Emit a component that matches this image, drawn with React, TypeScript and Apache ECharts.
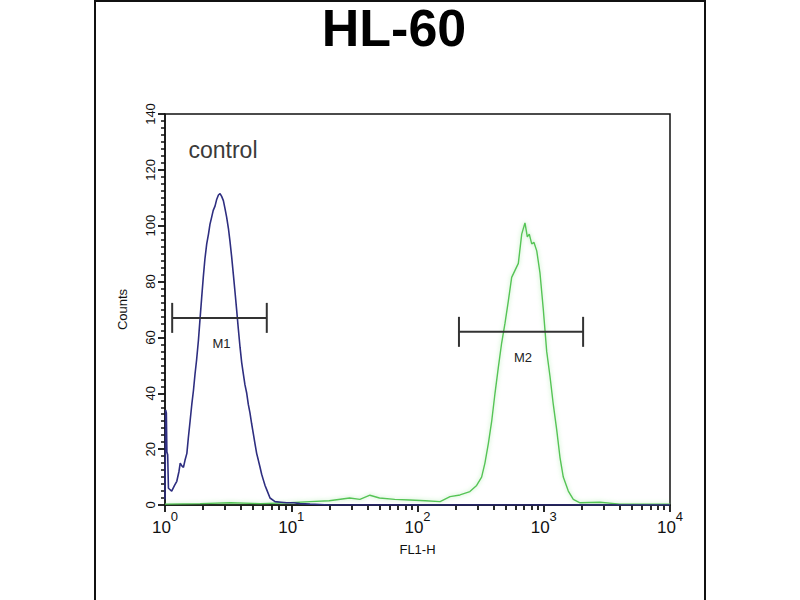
import React, { useEffect, useRef } from 'react';
import * as echarts from 'echarts';

// FL1-H histogram, control (blue) vs stained (green)
const controlCounts: [number, number][] = [
  [1.0, 2], [1.012, 34], [1.025, 33], [1.035, 19], [1.05, 18], [1.065, 6], [1.13, 5],
  [1.19, 7], [1.24, 8.5], [1.29, 12], [1.32, 15], [1.36, 14], [1.4, 13.5], [1.44, 16],
  [1.49, 18.5], [1.53, 24], [1.58, 30], [1.63, 36], [1.68, 41], [1.73, 47], [1.78, 52],
  [1.84, 59], [1.89, 66], [1.95, 74], [2.01, 81.5], [2.07, 88], [2.14, 93.5], [2.21, 97],
  [2.27, 100.5], [2.34, 103], [2.41, 105.5], [2.49, 107], [2.57, 109.5], [2.65, 111],
  [2.73, 111.5], [2.81, 110.5], [2.9, 109], [2.99, 106], [3.08, 103], [3.18, 99],
  [3.27, 94.5], [3.37, 89], [3.48, 82.5], [3.59, 76], [3.7, 69.5], [3.81, 63], [3.93, 56.5],
  [4.05, 51], [4.17, 47], [4.3, 43], [4.44, 40], [4.57, 36], [4.71, 33], [4.86, 29],
  [5.01, 25.5], [5.16, 22], [5.32, 18.5], [5.49, 16], [5.66, 13.5], [5.83, 11], [6.01, 9],
  [6.2, 7], [6.39, 5.5], [6.79, 2.5], [7.44, 1.2], [8.3, 1], [9.2, 0.8], [10.5, 0.8],
  [11.7, 0.5], [14.1, 0.3], [20, 0], [10000, 0],
];

const stainedCounts: [number, number][] = [
  [1, 0.3], [1.9, 0.5], [3.3, 0.8], [5.7, 0.5], [9.8, 0.8], [14, 1.2], [20, 1.5], [29, 2.5],
  [35, 2], [42, 3.5], [50, 2.5], [66, 2], [87, 1.8], [115, 1.5], [151, 1.2], [181, 3],
  [217, 3.6], [260, 4.8], [294, 7], [322, 10], [342, 15], [364, 22], [387, 30], [411, 40],
  [436, 49], [464, 58], [493, 65], [524, 73], [557, 81.5], [592, 84], [629, 86.5], [669, 97],
  [710, 101], [741, 96], [768, 97], [803, 93.5], [837, 94], [880, 91], [934, 83], [992, 70],
  [1055, 55], [1121, 46], [1190, 36], [1266, 27], [1345, 17], [1428, 10], [1565, 5],
  [1714, 2], [1937, 0.8], [2789, 1], [4000, 0.3], [10000, 0.3],
];

// marker gates: [from, to, height]
const markerNames = ['M1', 'M2'];
const markerRanges: [number, number, number][] = [
  [1.14, 6.4, 67],
  [213, 2050, 62],
];

const xDecades = [1, 10, 100, 1000, 10000];
const xExponents = ['0', '1', '2', '3', '4'];
const xMinorSteps = [2, 3, 4, 5, 6, 7, 8, 9];

const yMin = 0;
const yMax = 140;
const yStep = 20;

const FONT = 'Liberation Sans, Arial, Helvetica, sans-serif';

const App: React.FC = () => {
  const chartRef = useRef<HTMLDivElement | null>(null);

  useEffect(() => {
    if (!chartRef.current) return;
    const chart = echarts.init(chartRef.current, undefined, { renderer: 'svg' });

    // minor tick positions, in decades, for the overlay axis
    const minorTicks: number[] = [];
    for (let d = 0; d < xDecades.length - 1; d++) {
      xMinorSteps.forEach((s) => minorTicks.push(Math.log10(xDecades[d] * s)));
    }

    const option: echarts.EChartsOption = {
      animation: false,
      backgroundColor: '#fff',
      title: {
        text: 'HL-60',
        left: 394,
        top: 2,
        padding: 0,
        textAlign: 'center',
        textStyle: { fontSize: 52, fontWeight: 'bold', fontFamily: FONT, color: '#000' },
      },
      graphic: [
        {
          type: 'rect',
          shape: { x: 95, y: 1, width: 610, height: 650 },
          style: { fill: 'none', stroke: '#111', lineWidth: 2 },
          silent: true,
        },
        {
          type: 'text',
          x: 223,
          y: 150,
          style: {
            text: 'control',
            fontSize: 23,
            fontFamily: FONT,
            fill: '#3a3a3a',
            textAlign: 'center',
            textVerticalAlign: 'middle',
          },
        },
      ],
      grid: {
        left: 165,
        right: 130,
        top: 114,
        bottom: 95,
        show: true,
        borderColor: '#111',
        borderWidth: 1.5,
        backgroundColor: 'transparent',
      },
      xAxis: [
        {
          type: 'log',
          logBase: 10,
          min: xDecades[0],
          max: xDecades[xDecades.length - 1],
          name: 'FL1-H',
          nameLocation: 'middle',
          nameGap: 38,
          nameTextStyle: { fontSize: 13, fontFamily: FONT, color: '#111' },
          axisLine: { lineStyle: { color: '#111', width: 1.5 } },
          axisTick: { length: 7, lineStyle: { color: '#111', width: 1.8 } },
          splitLine: { show: false },
          axisLabel: {
            margin: 5,
            formatter: (v: number) => {
              const i = xDecades.indexOf(v);
              return `{b|10}{s|${i >= 0 ? xExponents[i] : ''}}`;
            },
            rich: {
              b: { fontSize: 17, lineHeight: 26, verticalAlign: 'bottom', fontFamily: FONT, color: '#111' },
              s: { fontSize: 13, lineHeight: 12, verticalAlign: 'top', fontFamily: FONT, color: '#111' },
            },
          },
        },
        {
          type: 'value',
          min: 0,
          max: xDecades.length - 1,
          position: 'bottom',
          axisLine: { show: true, lineStyle: { color: '#111', width: 1.5 } },
          axisLabel: { show: false },
          splitLine: { show: false },
          axisTick: {
            show: true,
            length: 5,
            customValues: minorTicks,
            lineStyle: { color: '#111', width: 1.8 },
          },
        },
      ],
      yAxis: {
        type: 'value',
        min: yMin,
        max: yMax,
        interval: yStep,
        name: 'Counts',
        nameLocation: 'middle',
        nameGap: 36,
        nameRotate: 90,
        nameTextStyle: { fontSize: 13, fontFamily: FONT, color: '#111' },
        axisLine: { show: true, lineStyle: { color: '#111', width: 1.5 } },
        axisTick: { show: true, length: 7, lineStyle: { color: '#111', width: 1.8 } },
        minorTick: { show: true, splitNumber: 8, length: 4, lineStyle: { color: '#111', width: 1.5 } },
        splitLine: { show: false },
        axisLabel: { rotate: 90, margin: 8, fontSize: 13, fontFamily: FONT, color: '#111' },
      },
      series: [
        {
          name: 'stained',
          type: 'line',
          data: stainedCounts,
          showSymbol: false,
          symbol: 'none',
          lineStyle: {
            color: '#55c455',
            width: 1.4,
            shadowColor: 'rgba(140,225,140,0.7)',
            shadowBlur: 4,
          },
          z: 3,
        },
        {
          name: 'control',
          type: 'line',
          data: controlCounts,
          showSymbol: false,
          symbol: 'none',
          lineStyle: { color: '#2e2e80', width: 1.6 },
          z: 4,
        },
        {
          name: 'markers',
          type: 'custom',
          data: markerRanges,
          encode: { x: [0, 1], y: 2 },
          z: 5,
          renderItem: (params: any, api: any) => {
            const a = api.coord([api.value(0), api.value(2)]);
            const b = api.coord([api.value(1), api.value(2)]);
            const stroke = { stroke: '#333', lineWidth: 2 };
            return {
              type: 'group',
              children: [
                { type: 'line', shape: { x1: a[0], y1: a[1], x2: b[0], y2: b[1] }, style: stroke },
                { type: 'line', shape: { x1: a[0], y1: a[1] - 15, x2: a[0], y2: a[1] + 15 }, style: stroke },
                { type: 'line', shape: { x1: b[0], y1: b[1] - 15, x2: b[0], y2: b[1] + 15 }, style: stroke },
                {
                  type: 'text',
                  x: (a[0] + b[0]) / 2 + 2,
                  y: a[1] + 26,
                  style: {
                    text: markerNames[params.dataIndex],
                    fontSize: 13,
                    fontFamily: FONT,
                    fill: '#222',
                    textAlign: 'center',
                    textVerticalAlign: 'middle',
                  },
                },
              ],
            };
          },
        },
      ],
    };

    chart.setOption(option);
    return () => {
      chart.dispose();
    };
  }, []);

  return (
    <div
      ref={chartRef}
      style={{ position: 'absolute', left: 0, top: 0, width: '800px', height: '600px', background: '#fff' }}
    />
  );
};

export default App;
